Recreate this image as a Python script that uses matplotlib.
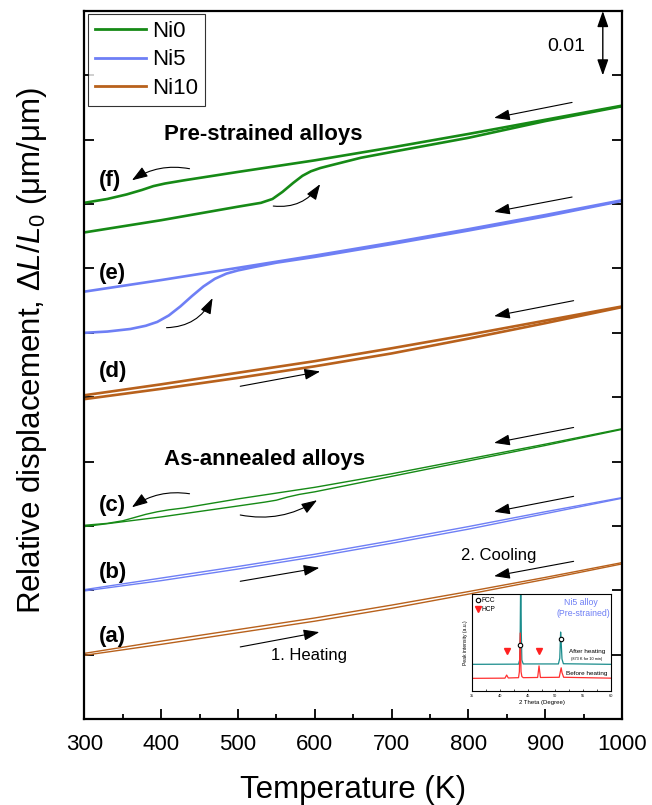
import numpy as np
import matplotlib
matplotlib.use("Agg")
import matplotlib.pyplot as plt

plt.rcParams['font.family'] = ['Liberation Sans', 'DejaVu Sans']
plt.rcParams['mathtext.fontset'] = 'custom'
plt.rcParams['mathtext.rm'] = 'Liberation Sans'
plt.rcParams['mathtext.it'] = 'Liberation Sans:italic'

# colours of the three alloys
c_ni0 = '#168a16'
c_ni5 = '#6e7ff5'
c_ni10 = '#b8611c'

# ---- dilatometry data (strain vs temperature) ----
T_std = [300, 400, 500, 600, 700, 800, 900, 1000]

# (a) Ni10 as-annealed
a_heat = [0.0099, 0.0116, 0.0134, 0.0152, 0.0172, 0.0194, 0.0217, 0.0241]
a_cool = [0.0102, 0.0121, 0.0139, 0.0157, 0.0177, 0.0198, 0.0220, 0.0243]

# (b) Ni5 as-annealed
b_heat = [0.0199, 0.0215, 0.0233, 0.0252, 0.0273, 0.0295, 0.0319, 0.0343]
b_cool = [0.0201, 0.0219, 0.0237, 0.0256, 0.0277, 0.0299, 0.0322, 0.0344]

# (c) Ni0 as-annealed
c_heat_T = [300, 400, 500, 535, 550, 565, 580, 600, 700, 800, 900, 1000]
c_heat = [0.0299, 0.0314, 0.0331, 0.0337, 0.0340, 0.0345, 0.0349, 0.0353, 0.0377, 0.0401, 0.0425, 0.0450]
c_cool_T = [300, 330, 350, 365, 380, 395, 410, 430, 500, 600, 700, 800, 900, 1000]
c_cool = [0.0301, 0.0304, 0.0308, 0.0313, 0.0318, 0.0322, 0.0325, 0.0328, 0.0342, 0.0360,
          0.0381, 0.0404, 0.0427, 0.0451]

# (d) Ni10 pre-strained
d_heat = [0.0497, 0.0513, 0.0530, 0.0548, 0.0568, 0.0591, 0.0615, 0.0640]
d_cool = [0.0503, 0.0520, 0.0538, 0.0556, 0.0576, 0.0597, 0.0619, 0.0641]

# (e) Ni5 pre-strained
e_heat_T = [300, 330, 360, 380, 395, 410, 425, 440, 455, 470, 485, 500, 520, 550, 600,
            700, 800, 900, 1000]
e_heat = [0.0600, 0.0602, 0.0606, 0.0611, 0.0617, 0.0627, 0.0641, 0.0657, 0.0672, 0.0684,
          0.0692, 0.0697, 0.0702, 0.0709, 0.0718, 0.0738, 0.0759, 0.0781, 0.0805]
e_cool = [0.0664, 0.0682, 0.0701, 0.0720, 0.0740, 0.0761, 0.0783, 0.0806]

# (f) Ni0 pre-strained
f_heat_T = [300, 400, 500, 530, 545, 558, 572, 584, 595, 607, 620, 640, 660, 700, 800, 900, 1000]
f_heat = [0.0756, 0.0775, 0.0796, 0.0802, 0.0808, 0.0819, 0.0833, 0.0844, 0.0851, 0.0856,
          0.0860, 0.0866, 0.0872, 0.0881, 0.0903, 0.0929, 0.0952]
f_cool_T = [300, 330, 355, 375, 390, 405, 430, 500, 600, 700, 800, 900, 1000]
f_cool = [0.0802, 0.0808, 0.0815, 0.0822, 0.0828, 0.0832, 0.0837, 0.0850, 0.0868, 0.0888,
          0.0909, 0.0931, 0.0953]

# ---- inset XRD data ----
teal_x = [35, 43.35, 43.55, 43.65, 43.75, 43.85, 43.95, 44.2, 50.55, 50.8, 50.95, 51.05, 51.2, 51.45, 60]
teal_y = [27.6, 27.8, 32, 60, 130, 60, 32, 28, 28, 34, 61, 50, 33, 28.2, 27.6]
red_x = [35, 40.9, 41.2, 41.5, 43.35, 43.5, 43.65, 43.8, 43.95, 44.2, 46.8, 47.05, 47.3,
         50.7, 50.9, 51.05, 51.2, 51.5, 60]
red_y = [13.1, 13.3, 16.5, 13.5, 13.8, 20, 60, 20, 15, 13.8, 14, 26, 14, 14.2, 20, 24, 19, 14.2, 13.3]
fcc_x = [43.7, 51.0]
fcc_y = [47.6, 53.5]
hcp_x = [41.2, 47.1]
hcp_y = [41.7, 41.7]

fig = plt.figure(figsize=(6.52, 8.05), dpi=100)
ax = fig.add_axes([0.1293, 0.1068, 0.8247, 0.8795])

thin = 1.0
thick = 1.9
ax.plot(T_std, a_heat, color=c_ni10, lw=thin)
ax.plot(T_std, a_cool, color=c_ni10, lw=thin)
ax.plot(T_std, b_heat, color=c_ni5, lw=thin)
ax.plot(T_std, b_cool, color=c_ni5, lw=thin)
ax.plot(c_heat_T, c_heat, color=c_ni0, lw=thin)
ax.plot(c_cool_T, c_cool, color=c_ni0, lw=thin)
ax.plot(T_std, d_heat, color=c_ni10, lw=thick)
ax.plot(T_std, d_cool, color=c_ni10, lw=thick)
ax.plot(e_heat_T, e_heat, color=c_ni5, lw=thick)
ax.plot(T_std, e_cool, color=c_ni5, lw=thick)
ax.plot(f_heat_T, f_heat, color=c_ni0, lw=thick)
ax.plot(f_cool_T, f_cool, color=c_ni0, lw=thick)

# legend handles
ax.plot([], [], color=c_ni0, lw=2, label='Ni0')
ax.plot([], [], color=c_ni5, lw=2, label='Ni5')
ax.plot([], [], color=c_ni10, lw=2, label='Ni10')
leg = ax.legend(loc='upper left', bbox_to_anchor=(0.007, 0.996), borderaxespad=0,
                fontsize=16, frameon=True, fancybox=False, handlelength=2.3,
                handletextpad=0.3, labelspacing=0.35, borderpad=0.3)
leg.get_frame().set_edgecolor('black')
leg.get_frame().set_linewidth(0.8)

ax.set_xlim(300, 1000)
ax.set_ylim(0, 0.110)
ax.set_xticks(np.arange(300, 1001, 100))
ax.set_xticks(np.arange(350, 1000, 100), minor=True)
ax.set_yticks(np.arange(0, 0.1001, 0.01))
ax.set_yticklabels([])
ax.tick_params(axis='x', which='major', direction='in', length=7.5, width=1.3, labelsize=16, pad=11)
ax.tick_params(axis='x', which='minor', direction='in', length=3.5, width=1.3)
ax.tick_params(axis='y', which='major', direction='in', length=7.5, width=1.3,
               left=True, right=True)
for s in ax.spines.values():
    s.set_linewidth(1.6)

ax.set_xlabel('Temperature (K)', fontsize=22.5, labelpad=14)
ax.set_ylabel(r'Relative displacement, $\Delta L/L_0$ (μm/μm)', fontsize=22.5)
ax.yaxis.set_label_coords(-0.066, 0.52)

# curve labels
lab = [('(f)', 333.5, 0.0836), ('(e)', 337, 0.0692), ('(d)', 338, 0.0540),
       ('(c)', 337, 0.0331), ('(b)', 337, 0.0227), ('(a)', 336, 0.0128)]
for t, x, y in lab:
    ax.text(x, y, t, fontsize=16, fontweight='bold', ha='center', va='center')
ax.text(533, 0.0908, 'Pre-strained alloys', fontsize=16, fontweight='bold', ha='center', va='center')
ax.text(534, 0.0403, 'As-annealed alloys', fontsize=16, fontweight='bold', ha='center', va='center')
ax.text(592, 0.0098, '1. Heating', fontsize=12, ha='center', va='center')
ax.text(839, 0.0254, '2. Cooling', fontsize=12, ha='center', va='center')

# arrows  (tail, head, curvature)
arrows = [
    ((935, 0.0958), (833.5, 0.0934), 0), ((935, 0.0811), (833.5, 0.0788), 0),
    ((937, 0.0650), (833.5, 0.0626), 0), ((937, 0.0453), (833.5, 0.0429), 0),
    ((937, 0.0346), (833.5, 0.0322), 0), ((937, 0.0245), (833.5, 0.0222), 0),
    ((503, 0.0214), (606, 0.0235), 0), ((503, 0.0112), (606, 0.0135), 0),
    ((503, 0.0517), (607, 0.0540), 0),
    ((503, 0.0317), (603, 0.0340), 0.2), ((437, 0.0350), (362, 0.0329), 0.2),
    ((437, 0.0855), (362, 0.0837), 0.2), ((546, 0.0797), (607, 0.0831), 0.3),
    ((407, 0.0608), (467, 0.0654), 0.3),
]
for tail, head, rad in arrows:
    ax.annotate('', xy=head, xytext=tail,
                arrowprops=dict(arrowstyle='-|>,head_length=0.8,head_width=0.28', color='k',
                                lw=0.8, mutation_scale=12, shrinkA=0, shrinkB=0,
                                connectionstyle='arc3,rad=%s' % rad))

# scale bar
ax.annotate('', xy=(975, 0.110), xytext=(975, 0.100), annotation_clip=False,
            arrowprops=dict(arrowstyle='<|-|>,head_length=0.8,head_width=0.28', color='k',
                            lw=1.0, mutation_scale=12, shrinkA=0, shrinkB=0))
ax.text(927, 0.1045, '0.01', fontsize=14, ha='center', va='center')

# ---- inset ----
ins = fig.add_axes([0.7244, 0.1416, 0.2123, 0.1201])
ins.plot(teal_x, teal_y, color='#1a8c8c', lw=0.9)
ins.plot(red_x, red_y, color='#ff3030', lw=0.9)
ins.plot(fcc_x, fcc_y, 'o', ms=3.2, mfc='white', mec='black', mew=0.8)
ins.plot(hcp_x, hcp_y, 'v', ms=4.5, color='#ff2020')
ins.plot([36.0], [94], 'o', ms=3.2, mfc='white', mec='black', mew=0.8)
ins.plot([36.0], [84.5], 'v', ms=4.5, color='#ff2020')
ins.text(36.7, 94, 'FCC', fontsize=4.8, va='center')
ins.text(36.7, 84.5, 'HCP', fontsize=4.8, va='center')
ins.text(54.6, 91.3, 'Ni5 alloy', fontsize=6.3, color=c_ni5, ha='center', va='center')
ins.text(55.1, 80.3, '(Pre-strained)', fontsize=6.3, color=c_ni5, ha='center', va='center')
ins.text(55.8, 40.6, 'After heating', fontsize=4.6, ha='center', va='center')
ins.text(55.7, 32.8, '(873 K for 10 min)', fontsize=2.8, ha='center', va='center')
ins.text(55.7, 17.6, 'Before heating', fontsize=4.6, ha='center', va='center')
ins.set_xlim(35, 60)
ins.set_ylim(0, 100)
ins.set_xticks(np.arange(35, 61, 5))
ins.set_xticks(np.arange(37.5, 60, 5), minor=True)
ins.set_yticks([])
ins.tick_params(axis='x', which='both', direction='in', length=1.5, width=0.5, labelsize=2.8, pad=2)
ins.set_xlabel('2 Theta (Degree)', fontsize=4.3, labelpad=1.5)
ins.set_ylabel('Peak intensity (a.u.)', fontsize=3.6, labelpad=3)
for s in ins.spines.values():
    s.set_linewidth(0.8)

fig.savefig('out.png', dpi=100)
